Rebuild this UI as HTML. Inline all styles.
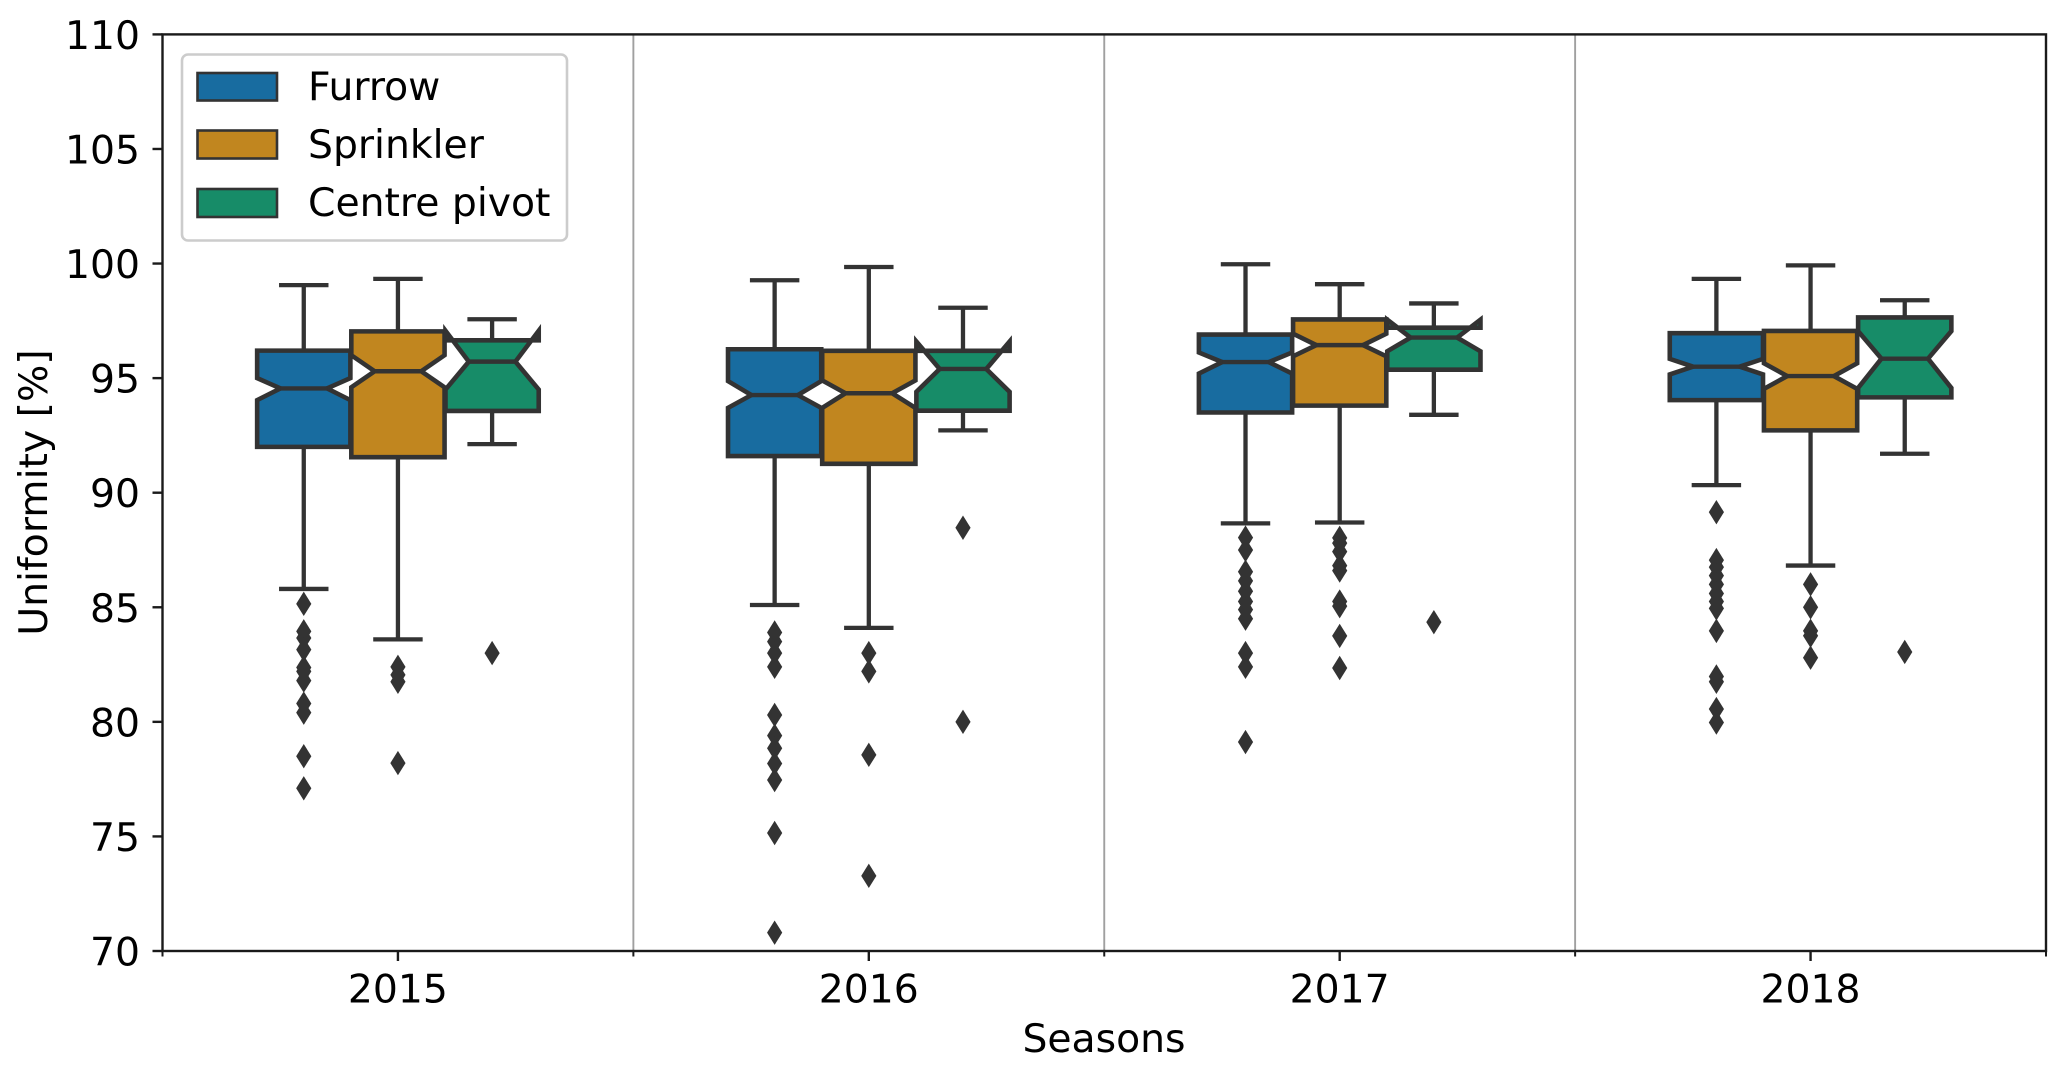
<!DOCTYPE html>
<html lang="en">
<head>
<meta charset="utf-8">
<title>Uniformity by season and irrigation method</title>
<style>
html,body{margin:0;padding:0;background:#fff;}
svg{display:block;}
text{font-family:"DejaVu Sans","Liberation Sans",sans-serif;fill:#000;}
</style>
</head>
<body>
<svg id="chart" xmlns="http://www.w3.org/2000/svg" width="2067" height="1069" viewBox="0 0 2067 1069">
  <rect x="0" y="0" width="2067" height="1069" fill="#ffffff"/>
  <g id="dividers"></g>
  <g id="boxes"></g>
  <g id="axes"></g>
  <text transform="translate(47,492.5) rotate(-90)" text-anchor="middle" font-size="39.3">Uniformity [%]</text>
  <text x="1104" y="1052" text-anchor="middle" font-size="39.3">Seasons</text>
  <g>
    <rect x="182" y="54.5" width="385" height="186" rx="6" ry="6" fill="#ffffff" fill-opacity="0.8" stroke="#cccccc" stroke-width="2.6"/>
    <g>
      <rect x="197.5" y="73" width="79.5" height="27.5" fill="#186ca0" stroke="#333333" stroke-width="2.6"/>
      <text x="308" y="100" font-size="39.3">Furrow</text>
    </g>
    <g>
      <rect x="197.5" y="130.5" width="79.5" height="28" fill="#c1861f" stroke="#333333" stroke-width="2.6"/>
      <text x="308" y="158" font-size="39.3">Sprinkler</text>
    </g>
    <g>
      <rect x="197.5" y="189" width="79.5" height="28" fill="#178c68" stroke="#333333" stroke-width="2.6"/>
      <text x="308" y="216" font-size="39.3">Centre pivot</text>
    </g>
  </g>
</svg>
<script>
// ---- chart data (rows: furrow, sprinkler, centre pivot; columns: 2015..2018) ----
const seasons = ['2015', '2016', '2017', '2018'];
const seriesNames = ['furrow', 'sprinkler', 'centre-pivot'];
const seriesColors = ['#186ca0', '#c1861f', '#178c68'];
const yTicks = [70, 75, 80, 85, 90, 95, 100, 105, 110];

const whiskerHigh = [
  [99.06, 99.27, 99.97, 99.33],
  [99.33, 99.85, 99.10, 99.92],
  [97.57, 98.07, 98.26, 98.40]
];
const q3 = [
  [96.20, 96.26, 96.90, 96.96],
  [97.04, 96.19, 97.56, 97.06],
  [96.65, 96.19, 97.20, 97.65]
];
const notchHigh = [
  [95.00, 94.87, 96.12, 95.84],
  [96.00, 94.90, 96.94, 95.65],
  [97.07, 96.60, 97.55, 97.05]
];
const medians = [
  [94.55, 94.26, 95.70, 95.50],
  [95.30, 94.34, 96.44, 95.09],
  [95.72, 95.40, 96.77, 95.85]
];
const notchLow = [
  [94.04, 93.70, 95.20, 95.16],
  [94.60, 93.70, 95.95, 94.53],
  [94.50, 94.40, 96.17, 94.57]
];
const q1 = [
  [92.00, 91.60, 93.50, 94.04],
  [91.55, 91.26, 93.80, 92.72],
  [93.57, 93.58, 95.37, 94.16]
];
const whiskerLow = [
  [85.80, 85.10, 88.66, 90.33],
  [83.60, 84.10, 88.70, 86.82],
  [92.12, 92.72, 93.40, 91.70]
];
const outliers = [
  [
    [85.15, 83.95, 83.66, 83.15, 82.37, 82.2, 81.8, 80.8, 80.4, 78.5, 77.1],
    [83.9, 83.5, 83.0, 82.4, 80.3, 79.4, 78.85, 78.18, 77.46, 75.15, 70.8],
    [88.04, 87.5, 86.55, 86.15, 85.7, 85.25, 84.9, 84.5, 83.0, 82.4, 79.12],
    [89.15, 87.06, 86.75, 86.38, 86.0, 85.6, 85.25, 84.95, 83.97, 81.98, 81.75, 80.56, 79.97]
  ],
  [
    [82.4, 82.05, 81.75, 78.2],
    [83.0, 82.2, 78.56, 73.28],
    [88.03, 87.8, 87.43, 86.82, 86.6, 85.25, 85.05, 83.75, 82.35],
    [86.0, 85.0, 83.97, 83.76, 82.8]
  ],
  [
    [83.0],
    [88.47, 80.0],
    [84.35],
    [83.05]
  ]
];

// ---- scales ----
const plotLeft = 162.5, plotRight = 2046, plotTop = 34.4, plotBottom = 951;
const yMin = 70, yMax = 110;
const catW = (plotRight - plotLeft) / seasons.length;
const HUE_STEP = 0.2, BOX_W = 0.198, CAP_W = 0.105;
const INK = '#333333', AXIS = '#1a1a1a';
function yScale(v) { return plotBottom - (v - yMin) / (yMax - yMin) * (plotBottom - plotTop); }
function catScale(c) { return plotLeft + c * catW; }
function hueCenter(season, hue) { return catScale(season + 0.5 + (hue - 1) * HUE_STEP); }

const NS = 'http://www.w3.org/2000/svg';
function make(tag, parent, attrs) {
  const el = document.createElementNS(NS, tag);
  for (const k in attrs) el.setAttribute(k, attrs[k]);
  parent.appendChild(el);
  return el;
}

// ---- dividers ----
const dividerLayer = document.getElementById('dividers');
for (let i = 1; i < seasons.length; i++) {
  const d = make('line', dividerLayer, { x1: catScale(i), x2: catScale(i), y1: plotTop, y2: plotBottom, stroke: '#a0a0a0', 'stroke-width': 1.9 });
  
  
}

// ---- boxes ----
const boxLayer = document.getElementById('boxes');
seasons.forEach(function (season, s) {
  seriesNames.forEach(function (name, h) {
    const cx = hueCenter(s, h);
    const half = BOX_W * catW / 2;
    const capHalf = CAP_W * catW / 2 * 1;
    const L = cx - half, R = cx + half, inset = half / 2;
    const g = make('g', boxLayer, {});
    
    

    const wh = make('line', g, { x1: cx, x2: cx, y1: yScale(whiskerHigh[h][s]), y2: yScale(q3[h][s]), stroke: INK, 'stroke-width': 4.3 });
    
    
    const wl = make('line', g, { x1: cx, x2: cx, y1: yScale(whiskerLow[h][s]), y2: yScale(q1[h][s]), stroke: INK, 'stroke-width': 4.3 });
    
    
    const ch = make('line', g, { x1: cx - capHalf, x2: cx + capHalf, y1: yScale(whiskerHigh[h][s]), y2: yScale(whiskerHigh[h][s]), stroke: INK, 'stroke-width': 4.3 });
    
    
    const cl = make('line', g, { x1: cx - capHalf, x2: cx + capHalf, y1: yScale(whiskerLow[h][s]), y2: yScale(whiskerLow[h][s]), stroke: INK, 'stroke-width': 4.3 });
    
    

    const pts = [
      [L, q1[h][s]], [R, q1[h][s]], [R, notchLow[h][s]], [R - inset, medians[h][s]], [R, notchHigh[h][s]],
      [R, q3[h][s]], [L, q3[h][s]], [L, notchHigh[h][s]], [L + inset, medians[h][s]], [L, notchLow[h][s]]
    ].map(function (p) { return p[0] + ',' + yScale(p[1]); }).join(' ');
    const poly = make('polygon', g, { points: pts, fill: seriesColors[h], stroke: INK, 'stroke-width': 4.6, 'stroke-linejoin': 'miter' });
    
    

    const med = make('line', g, { x1: L + inset, x2: R - inset, y1: yScale(medians[h][s]), y2: yScale(medians[h][s]), stroke: INK, 'stroke-width': 4.4 });
    
    

    outliers[h][s].forEach(function (v) {
      const y = yScale(v);
      const m = make('polygon', g, { points: (cx - 7.6) + ',' + y + ' ' + cx + ',' + (y - 12.2) + ' ' + (cx + 7.6) + ',' + y + ' ' + cx + ',' + (y + 12.2), fill: INK });
      
      
    });
  });
});

// ---- axes ----
const axisLayer = document.getElementById('axes');
const frame = make('rect', axisLayer, { x: plotLeft, y: plotTop, width: plotRight - plotLeft, height: plotBottom - plotTop, fill: 'none', stroke: AXIS, 'stroke-width': 2.4 });



yTicks.forEach(function (t) {
  const y = yScale(t);
  const mark = make('line', axisLayer, { x1: plotLeft - 10, x2: plotLeft, y1: y, y2: y, stroke: AXIS, 'stroke-width': 2.4 });
  
  
  const label = make('text', axisLayer, { x: 140, y: y + 14.5, 'text-anchor': 'end', 'font-size': 39.3 });
  label.textContent = String(t);
  
  
});

seasons.forEach(function (season, s) {
  const x = catScale(s + 0.5);
  const mark = make('line', axisLayer, { x1: x, x2: x, y1: plotBottom, y2: plotBottom + 10, stroke: AXIS, 'stroke-width': 2.4 });
  
  
  const label = make('text', axisLayer, { x: x, y: 1002.5, 'text-anchor': 'middle', 'font-size': 39.3 });
  label.textContent = season;
  
  
});

for (let i = 0; i <= seasons.length; i++) {
  const minor = make('line', axisLayer, { x1: catScale(i), x2: catScale(i), y1: plotBottom, y2: plotBottom + 5.5, stroke: AXIS, 'stroke-width': 2 });
  
  
}
</script>
</body>
</html>
